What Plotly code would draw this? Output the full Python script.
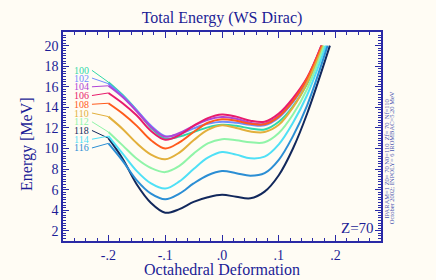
import plotly.graph_objects as go

# ---- data ----
deform = [-0.2, -0.175, -0.15, -0.125, -0.1, -0.075, -0.05, -0.025, 0.0,
          0.025, 0.05, 0.075, 0.1, 0.125, 0.15]
neutrons = ["100", "102", "104", "106", "108", "110", "112", "118", "114", "116"]
energy = {
    "100": [16.45, 15.2, 13.7, 12.0, 10.95, 11.15, 11.6, 12.05, 12.3, 12.2, 11.95, 11.85, 12.6, 14.1, 16.3],
    "102": [16.3, 15.1, 13.7, 12.2, 11.2, 11.4, 11.95, 12.4, 12.6, 12.5, 12.3, 12.25, 13.0, 14.5, 16.6],
    "104": [16.1, 15.0, 13.6, 12.1, 11.15, 11.5, 12.2, 12.8, 13.05, 12.9, 12.5, 12.4, 13.2, 14.7, 16.8],
    "106": [15.4, 14.4, 13.2, 11.7, 10.85, 11.3, 12.2, 12.95, 13.3, 13.1, 12.7, 12.6, 13.4, 14.9, 16.9],
    "108": [14.4, 13.4, 12.2, 10.8, 10.0, 10.6, 11.6, 12.5, 12.85, 12.7, 12.4, 12.35, 13.1, 14.6, 16.8],
    "110": [13.1, 11.9, 10.5, 9.4, 8.95, 9.6, 10.8, 11.8, 12.25, 12.0, 11.65, 11.6, 12.3, 14.0, 16.4],
    "112": [11.6, 10.3, 9.0, 8.1, 7.7, 8.3, 9.5, 10.5, 10.9, 10.8, 10.6, 10.6, 11.5, 13.3, 15.8],
    "118": [11.0, 9.0, 6.5, 4.7, 3.75, 4.1, 4.8, 5.25, 5.5, 5.3, 5.15, 5.8, 7.4, 10.0, 13.4],
    "114": [11.2, 9.5, 7.8, 6.6, 6.1, 6.8, 8.0, 9.1, 9.65, 9.4, 9.05, 9.2, 10.4, 12.5, 15.2],
    "116": [10.5, 8.8, 6.9, 5.6, 5.05, 5.6, 6.6, 7.4, 7.8, 7.6, 7.35, 7.6, 8.9, 11.2, 14.2],
}
# deformation where each curve reaches 20 MeV
end_deform = {"100": 0.177, "102": 0.176, "104": 0.175, "106": 0.175, "108": 0.176,
              "110": 0.178, "112": 0.180, "118": 0.190, "114": 0.183, "116": 0.186}
end_energy = 20.0
# label heights (MeV) for the left-side labels
label_energy = [17.6, 16.85, 16.0, 15.15, 14.3, 13.45, 12.6, 11.75, 10.9, 10.05]

colors = {"100": "#2fd8a8", "102": "#6f8cff", "104": "#b046d6", "106": "#e81c6c",
          "108": "#ff5a1c", "110": "#e2b03c", "112": "#90f4a8", "118": "#12285c",
          "114": "#4fe0f6", "116": "#2b8ed4"}

TXT = "#1c1c96"
AX = "#2a2aa6"
BG = "#fffcf4"
FONT = "Liberation Serif"

fig = go.Figure()
label_x = -0.229
for n, ly in zip(neutrons, label_energy):
    c = colors[n]
    ys = energy[n]
    # leader line from label to curve start
    fig.add_trace(go.Scatter(x=[label_x, deform[0]], y=[ly, ys[0]], mode="lines",
                             line=dict(color=c, width=1), hoverinfo="skip", showlegend=False))
    fig.add_trace(go.Scatter(x=deform + [end_deform[n]], y=ys + [end_energy], mode="lines",
                             line=dict(color=c, width=2, shape="spline", smoothing=1.0),
                             name=n, showlegend=False))
    fig.add_annotation(x=label_x - 0.004, y=ly, xref="x", yref="y", text=n, showarrow=False,
                       xanchor="right", yanchor="middle", borderpad=0,
                       font=dict(family=FONT, size=10, color=c))

fig.add_annotation(x=0.985, y=0.06, xref="paper", yref="paper", text="Z=70", showarrow=False,
                   xanchor="right", yanchor="middle", font=dict(family=FONT, size=15, color=TXT))
fig.add_annotation(x=1.016, y=0.39, xref="paper", yref="paper",
                   text="IPARAM=1 Z0= 70 N0=110  Zf= 70  Nf=110", textangle=-90,
                   showarrow=False, xanchor="center", yanchor="middle", borderpad=0,
                   font=dict(family=FONT, size=6.5, color="#4a55b0"))
fig.add_annotation(x=1.034, y=0.40, xref="paper", yref="paper",
                   text="October 2002; INPOLY= 6 IROMBAC=5.20 MeV", textangle=-90,
                   showarrow=False, xanchor="center", yanchor="middle", borderpad=0,
                   font=dict(family=FONT, size=6.5, color="#4a55b0"))
# axis titles
fig.add_annotation(x=0.5, y=-0.134, xref="paper", yref="paper", text="Octahedral Deformation",
                   showarrow=False, xanchor="center", yanchor="middle", borderpad=0,
                   font=dict(family=FONT, size=16, color=TXT))
fig.add_annotation(x=-0.113, y=0.46, xref="paper", yref="paper", text="Energy [MeV]",
                   textangle=-90, showarrow=False, xanchor="center", yanchor="middle",
                   borderpad=0, font=dict(family=FONT, size=16, color=TXT))

axis_common = dict(showline=True, linecolor=AX, linewidth=1.5, mirror="allticks",
                   ticks="inside", tickcolor=AX, showgrid=False, zeroline=False,
                   tickfont=dict(family=FONT, size=14, color=TXT))

fig.update_xaxes(range=[-0.28, 0.28], tickvals=[-0.2, -0.1, 0.0, 0.1, 0.2],
                 ticktext=["-.2", "-.1", ".0", ".1", ".2"], ticklen=6,
                 minor=dict(dtick=0.02, tick0=0, ticklen=3, ticks="inside", tickcolor=AX),
                 **axis_common)
fig.update_yaxes(range=[1.0, 21.33], tick0=0, dtick=2, ticklen=6,
                 minor=dict(dtick=0.25, tick0=0, ticklen=3, ticks="inside", tickcolor=AX),
                 **axis_common)

fig.update_layout(
    width=436, height=280,
    margin=dict(l=63, r=55, t=32, b=39),
    paper_bgcolor=BG, plot_bgcolor=BG,
    title=dict(text="Total Energy (WS Dirac)", x=0.5, xref="paper", xanchor="center",
               y=0.937, yanchor="middle", font=dict(family=FONT, size=16, color=TXT)),
    showlegend=False,
)

fig.write_html("out.html", config={"displayModeBar": False},
               post_script="document.body.style.margin='0px';")
